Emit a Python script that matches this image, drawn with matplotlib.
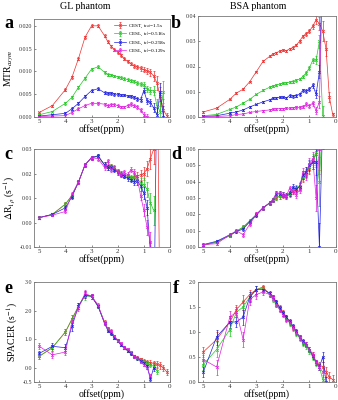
import numpy as np
import matplotlib
matplotlib.use("Agg")
import matplotlib.pyplot as plt

plt.rcParams['font.family'] = ['Liberation Serif', 'DejaVu Serif']
plt.rcParams['mathtext.fontset'] = 'stix'

offsets = [5, 4.5, 4, 3.75, 3.5, 3.25, 3, 2.75, 2.5, 2.375, 2.25, 2.125, 2, 1.875,
           1.75, 1.625, 1.5, 1.375, 1.25, 1.125, 1, 0.875, 0.75, 0.625, 0.5, 0.375, 0.25, 0.125]
nan = np.nan
labels = ["CEST, t$_{sat}$=1.5s", "CESL, t$_{sl}$=0.516s", "CESL, t$_{sl}$=0.258s", "CESL, t$_{sl}$=0.129s"]
colors = ["#f03030", "#22c822", "#2020e0", "#e020e0"]

# Panel a: MTRasym, GL phantom
a_red = [0.001, 0.0025, 0.006, 0.0087, 0.0128, 0.0175, 0.020, 0.020, 0.0178, 0.0165, 0.0155, 0.0148, 0.0142, 0.0135,
         0.0128, 0.0122, 0.0117, 0.0112, 0.0110, 0.0107, 0.0104, 0.0101, 0.0098, 0.0090, 0.0075, 0.0045, 0.0015, 0.0003]
a_green = [0.0005, 0.0012, 0.003, 0.0043, 0.0065, 0.0085, 0.0105, 0.011, 0.0098, 0.0093, 0.0092, 0.009, 0.0088, 0.0086,
           0.0084, 0.0082, 0.008, 0.0078, 0.0074, 0.0072, 0.0070, 0.0062, 0.0058, 0.0058, 0.0025, 0.0012, 0.0055, nan]
a_blue = [0.0002, 0.0005, 0.0008, 0.0018, 0.003, 0.0045, 0.0058, 0.0062, 0.0053, 0.0052, 0.0052, 0.005, 0.005, 0.0048,
          0.0048, 0.0046, 0.0045, 0.0043, 0.0040, 0.0038, 0.0058, 0.0035, 0.0032, 0.0020, 0.0005, 0.0055, 0.0, nan]
a_mag = [0.0001, 0.0002, 0.0003, 0.001, 0.0018, 0.0025, 0.003, 0.003, 0.0028, 0.0025, 0.0027, 0.0027, 0.0025, 0.0022,
         0.0022, 0.0025, 0.0028, 0.0025, 0.0022, 0.0015, 0.0005, 0.0, nan, nan, nan, nan, nan, nan]
a_err = [0.0002, 0.0002, 0.0003, 0.0003, 0.0003, 0.0003, 0.0003, 0.0003, 0.0003, 0.0003, 0.0003, 0.0003, 0.0003, 0.0003,
         0.0003, 0.0003, 0.0004, 0.0004, 0.0004, 0.0005, 0.0006, 0.0007, 0.0008, 0.0010, 0.0015, 0.0020, 0.0025, 0.0005]

# Panel b: MTRasym, BSA phantom
b_red = [0.002, 0.0035, 0.007, 0.0095, 0.011, 0.014, 0.018, 0.022, 0.024, 0.025, 0.0255, 0.026, 0.0265, 0.0262,
         0.027, 0.0275, 0.0285, 0.030, 0.032, 0.033, 0.034, 0.036, 0.0385, 0.037, 0.034, 0.027, 0.008, 0.001]
b_green = [0.0005, 0.001, 0.003, 0.004, 0.0055, 0.007, 0.009, 0.0105, 0.0118, 0.0122, 0.0125, 0.013, 0.0133, 0.0135,
           0.0138, 0.014, 0.0145, 0.015, 0.016, 0.0175, 0.0195, 0.0225, 0.0225, 0.030, 0.0005, nan, nan, nan]
b_blue = [0.0002, 0.0005, 0.0015, 0.002, 0.0028, 0.004, 0.005, 0.006, 0.0068, 0.0075, 0.0075, 0.0078, 0.0078, 0.0075,
          0.0085, 0.0082, 0.0085, 0.009, 0.0105, 0.0102, 0.011, 0.0125, 0.009, 0.018, 0.06, nan, nan, nan]
b_mag = [0.0, 0.0002, 0.0005, 0.001, 0.0012, 0.0018, 0.0022, 0.0025, 0.0028, 0.003, 0.0032, 0.0033, 0.0033, 0.0035,
         0.0035, 0.0036, 0.0038, 0.0038, 0.004, 0.005, 0.0045, 0.0055, 0.0025, 0.006, 0.06, nan, nan, nan]
b_err = [0.0003, 0.0003, 0.0003, 0.0003, 0.0003, 0.0003, 0.0003, 0.0004, 0.0004, 0.0004, 0.0004, 0.0004, 0.0004, 0.0004,
         0.0005, 0.0005, 0.0005, 0.0005, 0.0006, 0.0008, 0.0008, 0.0010, 0.0015, 0.0025, 0.0040, 0.0030, 0.0020, 0.0005]

# Panel c: dR1rho, GL phantom
c_red = [0.002, 0.0033, 0.0075, 0.011, 0.0165, 0.0235, 0.0265, 0.027, 0.0235, 0.0225, 0.023, 0.022, 0.021, 0.020,
         0.019, 0.019, 0.018, 0.0185, 0.019, 0.0195, 0.020, 0.022, 0.026, 0.030, 0.08, -0.05, nan, nan]
c_green = [0.002, 0.0033, 0.0075, 0.011, 0.0165, 0.0235, 0.0265, 0.027, 0.0235, 0.0225, 0.023, 0.022, 0.021, 0.020,
           0.019, 0.019, 0.0185, 0.0185, 0.018, 0.016, 0.0155, 0.0135, 0.008, 0.005, nan, nan, nan, nan]
c_blue = [0.002, 0.0033, 0.006, 0.0105, 0.0165, 0.0235, 0.0265, 0.0272, 0.0235, 0.0225, 0.0225, 0.0215, 0.0205, 0.0195,
          0.019, 0.018, 0.0175, 0.0165, 0.017, 0.015, 0.012, 0.006, -0.012, -0.05, 0.06, nan, nan, nan]
c_mag = [0.002, 0.003, 0.0045, 0.0115, 0.0165, 0.0235, 0.0265, 0.026, 0.0225, 0.025, 0.0215, 0.0225, 0.0205, 0.0195,
         0.0205, 0.0195, 0.0215, 0.0205, 0.018, 0.011, 0.005, -0.002, -0.008, -0.02, nan, nan, nan, nan]
c_err = [0.0005, 0.0005, 0.0008, 0.0008, 0.0008, 0.0008, 0.0008, 0.0008, 0.0010, 0.0010, 0.0010, 0.0010, 0.0010, 0.0010,
         0.0010, 0.0010, 0.0010, 0.0012, 0.0015, 0.0020, 0.0025, 0.0030, 0.0040, 0.0060, 0.0100, 0.0100, 0.0100, 0.0100]

# Panel d: dR1rho, BSA phantom
d_red = [0.001, 0.003, 0.007, 0.0095, 0.012, 0.016, 0.020, 0.024, 0.027, 0.0285, 0.030, 0.031, 0.0315, 0.031,
         0.032, 0.034, 0.035, 0.037, 0.042, 0.045, 0.048, 0.052, 0.057, 0.062, 0.08, nan, nan, nan]
d_green = [0.0012, 0.003, 0.007, 0.0098, 0.0122, 0.0158, 0.0198, 0.0238, 0.0268, 0.0285, 0.0305, 0.031, 0.032, 0.0312,
           0.0325, 0.035, 0.036, 0.0375, 0.043, 0.046, 0.049, 0.053, 0.058, 0.04, 0.08, nan, nan, nan]
d_blue = [0.0015, 0.0035, 0.0075, 0.0095, 0.011, 0.0155, 0.0195, 0.024, 0.027, 0.029, 0.0325, 0.0325, 0.032, 0.0315,
          0.033, 0.0365, 0.0355, 0.037, 0.044, 0.046, 0.050, 0.052, 0.052, 0.0, 0.08, nan, nan, nan]
d_mag = [0.0015, 0.002, 0.0075, 0.010, 0.0075, 0.014, 0.020, 0.024, 0.027, 0.029, 0.033, 0.033, 0.032, 0.031,
         0.036, 0.034, 0.032, 0.035, 0.046, 0.044, 0.051, 0.054, 0.030, 0.060, nan, nan, nan, nan]
d_err = [0.0008, 0.0008, 0.0010, 0.0010, 0.0012, 0.0012, 0.0012, 0.0012, 0.0012, 0.0012, 0.0015, 0.0015, 0.0015, 0.0015,
         0.0015, 0.0018, 0.0018, 0.0020, 0.0025, 0.0030, 0.0035, 0.0040, 0.0080, 0.0150, 0.0200, 0.0200, 0.0200, 0.0200]

# Panel e: SPACER, GL phantom
e_red = [0.40, 0.70, 1.25, 1.70, 2.15, 2.55, 2.50, 2.15, 1.60, 1.35, 1.25, 1.10, 0.95, 0.80,
         0.70, 0.60, 0.50, 0.40, 0.35, 0.30, 0.25, 0.20, 0.18, 0.15, 0.12, 0.08, 0.0, -0.15]
e_green = [0.40, 0.70, 1.25, 1.70, 2.15, 2.50, 2.50, 2.15, 1.55, 1.35, 1.20, 1.05, 0.95, 0.80,
           0.70, 0.60, 0.50, 0.40, 0.33, 0.28, 0.22, 0.15, 0.10, 0.05, -0.10, nan, nan, nan]
e_blue = [0.50, 0.75, 0.70, 1.45, 2.15, 2.55, 2.50, 2.15, 1.55, 1.30, 1.20, 1.05, 0.95, 0.80,
          0.70, 0.60, 0.50, 0.40, 0.33, 0.25, 0.18, 0.05, -0.40, 0.0, nan, nan, nan, nan]
e_mag = [0.75, 0.45, 0.55, 1.60, 2.10, 2.60, 2.50, 2.20, 1.55, 1.35, 1.30, 1.10, 0.95, 0.85,
         0.70, 0.65, 0.55, 0.40, 0.35, 0.20, 0.10, 0.0, -0.30, nan, nan, nan, nan, nan]
e_err = [0.10, 0.10, 0.12, 0.15, 0.10, 0.12, 0.08, 0.06, 0.06, 0.06, 0.06, 0.06, 0.06, 0.05,
         0.05, 0.05, 0.05, 0.05, 0.05, 0.05, 0.05, 0.06, 0.08, 0.10, 0.12, 0.12, 0.10, 0.10]

# Panel f: SPACER, BSA phantom
f_red = [0.60, 0.85, 1.20, 1.45, 1.60, 1.75, 1.85, 1.90, 1.75, 1.70, 1.60, 1.50, 1.40, 1.30,
         1.20, 1.10, 1.00, 0.90, 0.80, 0.75, 0.65, 0.55, 0.40, 0.35, 0.30, 0.20, 0.10, 0.05]
f_green = [0.35, 0.65, 1.05, 1.40, 1.50, 1.70, 1.85, 1.88, 1.75, 1.65, 1.55, 1.45, 1.38, 1.28,
           1.18, 1.08, 0.98, 0.88, 0.78, 0.72, 0.62, 0.50, 0.38, 0.30, 0.05, nan, nan, nan]
f_blue = [0.20, 0.90, 1.20, 1.20, 1.30, 1.70, 1.85, 1.85, 1.78, 1.70, 1.60, 1.48, 1.38, 1.30,
          1.22, 1.12, 1.02, 0.90, 0.82, 0.75, 0.65, 0.52, 0.40, 0.30, 0.50, 0.0, nan, nan]
f_mag = [0.45, 0.30, 1.30, 1.40, 0.85, 1.65, 1.75, 1.80, 1.75, 1.70, 1.55, 1.45, 1.35, 1.25,
         1.20, 1.10, 1.00, 0.90, 0.80, 0.75, 0.65, 0.55, 0.40, 0.30, 0.20, nan, nan, nan]
f_err = [0.10, 0.15, 0.12, 0.10, 0.15, 0.10, 0.08, 0.05, 0.05, 0.05, 0.05, 0.05, 0.05, 0.05,
         0.05, 0.05, 0.05, 0.05, 0.05, 0.05, 0.05, 0.05, 0.05, 0.06, 0.10, 0.10, 0.10, 0.10]

xticks = [5, 4, 3, 2, 1, 0]

fig = plt.figure(figsize=(3.38, 4.0), dpi=100)
W, H = 338.0, 400.0

def make_axes(l, r, t, b):
    return fig.add_axes([l / W, 1 - b / H, (r - l) / W, (b - t) / H])

panels = [
    ("a", (34, 170, 19, 117), [a_red, a_green, a_blue, a_mag], a_err, (0, 0.0215),
     [0, 0.005, 0.010, 0.015, 0.020], ["0.000", "0.005", "0.010", "0.015", "0.020"], "MTR$_{asym}$", (4, 15)),
    ("b", (198, 336, 16, 117), [b_red, b_green, b_blue, b_mag], b_err, (0, 0.04),
     [0, 0.01, 0.02, 0.03, 0.04], ["0.00", "0.01", "0.02", "0.03", "0.04"], None, (171, 15)),
    ("c", (34, 170, 149, 247), [c_red, c_green, c_blue, c_mag], c_err, (-0.01, 0.03),
     [-0.01, 0, 0.01, 0.02, 0.03], ["-0.01", "0.00", "0.01", "0.02", "0.03"], "$\\Delta$R$_{1\\rho}$ (s$^{-1}$)", (4, 146)),
    ("d", (198, 336, 149, 247), [d_red, d_green, d_blue, d_mag], d_err, (0, 0.06),
     [0, 0.01, 0.02, 0.03, 0.04, 0.05, 0.06], ["0.00", "0.01", "0.02", "0.03", "0.04", "0.05", "0.06"], None, (171, 146)),
    ("e", (34, 170, 282, 382), [e_red, e_green, e_blue, e_mag], e_err, (-0.5, 3.0),
     [-0.5, 0, 1, 2, 3], ["-0.5", "0.0", "1.0", "2.0", "3.0"], "SPACER (s$^{-1}$)", (4, 280)),
    ("f", (198, 336, 282, 382), [f_red, f_green, f_blue, f_mag], f_err, (0, 2.0),
     [0, 0.5, 1.0, 1.5, 2.0], ["0.0", "0.5", "1.0", "1.5", "2.0"], None, (173, 280)),
]

for letter, box, series, err, ylim, yt, ytl, ylab, lpos in panels:
    ax = make_axes(*box[:4])
    for s, c, lab in zip(series, colors, labels):
        ax.errorbar(offsets, s, yerr=err, color=c, lw=0.5, elinewidth=0.5, capsize=1,
                    capthick=0.5, marker='x', ms=2, mew=0.5, label=lab)
    ax.set_xlim(5.2, 0)
    ax.set_ylim(*ylim)
    ax.set_xticks(xticks)
    ax.set_xticklabels([str(v) for v in xticks], fontsize=5)
    ax.set_yticks(yt)
    ax.set_yticklabels(ytl, fontsize=4.3)
    ax.tick_params(direction='in', length=1.5, width=0.4, pad=1.5, colors='#333333')
    for sp in ax.spines.values():
        sp.set_color('#777777')
        sp.set_linewidth(0.6)
    ax.set_xlabel("offset(ppm)", fontsize=7, labelpad=0)
    if ylab:
        ax.set_ylabel(ylab, fontsize=7, labelpad=2)
    fig.text(lpos[0] / W, 1 - lpos[1] / H, letter, fontsize=13, fontweight='bold', va='top', ha='left')
    if letter == "a":
        ax.legend(loc='upper right', fontsize=3.8, frameon=False, handlelength=2.2,
                  labelspacing=0.25, borderaxespad=0.3, handletextpad=0.4)

fig.text(85 / W, 1 - 2 / H, "GL phantom", fontsize=7.2, ha='center', va='top')
fig.text(258 / W, 1 - 2 / H, "BSA phantom", fontsize=7.2, ha='center', va='top')

fig.savefig("out.png", dpi=100)
